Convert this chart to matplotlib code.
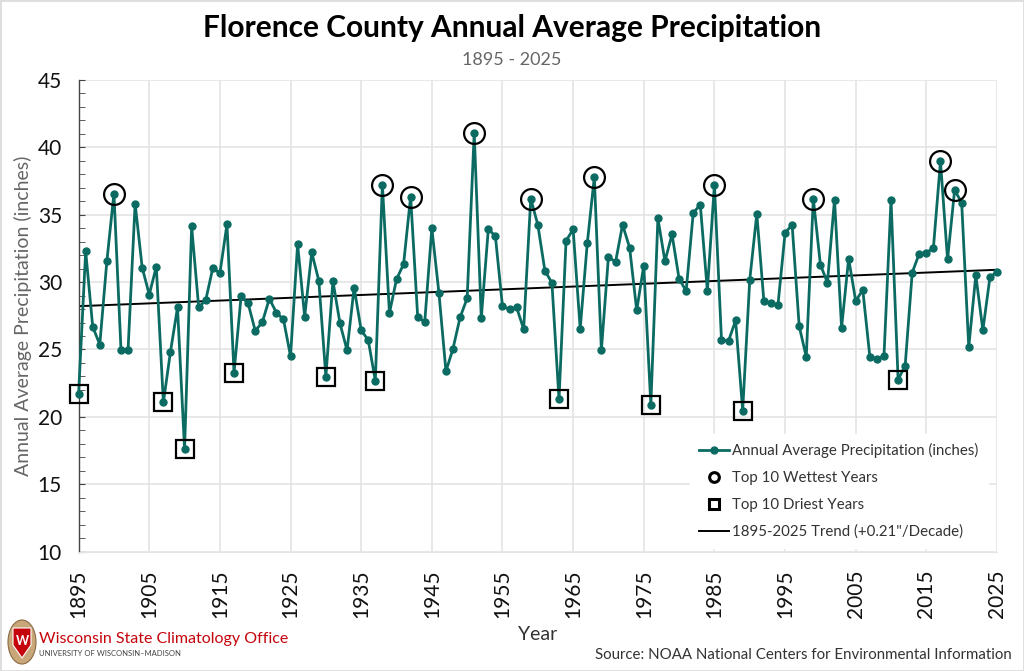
import numpy as np
import matplotlib
matplotlib.use("Agg")
import matplotlib.pyplot as plt
from matplotlib.patches import Ellipse, Polygon, Rectangle

plt.rcParams['font.family'] = ['Lato', 'DejaVu Sans']

years = list(range(1895, 2026))
precip = [
    21.71, 32.30, 26.68, 25.37, 31.55, 36.57, 24.97, 24.97, 35.83, 31.08,  # 1895-1904
    29.07, 31.15, 21.07, 24.82, 28.12, 17.59, 34.14, 28.12, 28.67, 31.06,  # 1905-1914
    30.66, 34.29, 23.28, 28.95, 28.42, 26.39, 27.01, 28.77, 27.73, 27.23,  # 1915-1924
    24.50, 32.82, 27.43, 32.20, 30.11, 22.98, 30.09, 26.93, 24.94, 29.59,  # 1925-1934
    26.43, 25.69, 22.68, 37.24, 27.70, 30.21, 31.33, 36.35, 27.40, 27.06,  # 1935-1944
    33.99, 29.22, 23.38, 25.07, 27.38, 28.80, 41.09, 27.33, 33.96, 33.39,  # 1945-1954
    28.20, 27.98, 28.12, 26.51, 36.20, 34.26, 30.86, 29.94, 21.29, 33.07,  # 1955-1964
    33.91, 26.53, 32.87, 37.79, 24.94, 31.90, 31.48, 34.26, 32.55, 27.90,  # 1965-1974
    31.23, 20.89, 34.73, 31.55, 33.54, 30.24, 29.34, 35.13, 35.75, 29.37,  # 1975-1984
    37.22, 25.71, 25.64, 27.16, 20.47, 30.16, 35.06, 28.60, 28.42, 28.32,  # 1985-1994
    33.64, 34.26, 26.73, 24.45, 36.19, 31.30, 29.96, 36.12, 26.61, 31.75,  # 1995-2004
    28.60, 29.42, 24.47, 24.30, 24.50, 36.11, 22.76, 23.80, 30.71, 32.12,  # 2005-2014
    32.17, 32.55, 38.96, 31.68, 36.82, 35.90, 25.17, 30.51, 26.43, 30.36,  # 2015-2024
    30.76,                                                                  # 2025
]

x = np.array(years)
y = np.array(precip)
order = np.argsort(y)
dry = order[:10]
wet = order[-10:]
slope, icpt = np.polyfit(x, y, 1)

teal = '#0b6b62'
fig = plt.figure(figsize=(10.24, 6.71), dpi=100)
ax = fig.add_axes([78.6 / 1024, 1 - 551.6 / 671, (997 - 78.6) / 1024, (551.6 - 80) / 671])

ax.plot(x, y, color=teal, lw=2.0, marker='o', ms=5, zorder=3, clip_on=False,
        label='Annual Average Precipitation (inches)')
ax.plot(x[wet], y[wet], ls='none', marker='o', ms=15, mfc='none', mec='black', mew=1.6,
        zorder=4, clip_on=False, label='Top 10 Wettest Years')
ax.plot(x[dry], y[dry], ls='none', marker='s', ms=13, mfc='none', mec='black', mew=1.6,
        zorder=4, clip_on=False, label='Top 10 Driest Years')
ax.plot(x, slope * x + icpt, color='black', lw=1.4, zorder=2,
        label='1895-2025 Trend (+%.2f"/Decade)' % (slope * 10))

ax.set_xlim(1895, 2025)
ax.set_ylim(10, 45)
ax.set_xticks(range(1895, 2026, 10))
ax.set_yticks(range(10, 46, 5))
ax.set_yticks(range(10, 46), minor=True)
ax.grid(True, color='#e4e4e4', lw=1.2, zorder=0)
ax.set_axisbelow(True)
for s in ['top', 'right']:
    ax.spines[s].set_visible(False)
ax.spines['bottom'].set_color('#e4e4e4')
ax.spines['left'].set_color('#444444')
ax.spines['left'].set_linewidth(1.0)
ax.tick_params(axis='x', length=0, labelsize=15, rotation=90, pad=13, labelcolor='#111111')
ax.tick_params(axis='y', which='major', direction='in', length=4, labelsize=15, pad=12,
               color='#444444', labelcolor='#111111')
ax.tick_params(axis='y', which='minor', direction='in', length=4, color='#444444')

ax.set_ylabel('Annual Average Precipitation (inches)', fontsize=14, color='#666666', labelpad=4)
ax.set_xlabel('Year', fontsize=14, color='#333333', labelpad=6)

leg = ax.legend(loc='lower right', bbox_to_anchor=(0.998, -0.008), fontsize=10.8, frameon=True,
                facecolor='white', edgecolor='white', framealpha=1, handlelength=2.0,
                handletextpad=0.2, labelspacing=0.85, borderpad=0.6)
for t in leg.get_texts():
    t.set_color('#333333')
hs = leg.legend_handles
hs[1].set_markersize(7)
hs[2].set_markersize(7)
hs[1].set_markeredgewidth(2.2)
hs[2].set_markeredgewidth(2.2)

fig.text(0.5, 1 - 28 / 671, 'Florence County Annual Average Precipitation', ha='center', va='center',
         fontsize=21.5, fontweight='bold', color='black')
fig.text(0.5, 1 - 60 / 671, '1895 - 2025', ha='center', va='center', fontsize=13, color='#666666')
fig.text(1012 / 1024, 1 - 655 / 671, 'Source: NOAA National Centers for Environmental Information',
         ha='right', va='center', fontsize=10.8, color='#333333')

# logo
fig.patches.append(Ellipse((22 / 1024, 1 - 642 / 671), 28 / 1024, 44 / 671,
                           transform=fig.transFigure, facecolor='#c8a77a', edgecolor='#8a6a44', lw=0.8))
fig.patches.append(Polygon([(13 / 1024, 1 - 628 / 671), (31 / 1024, 1 - 628 / 671),
                            (31 / 1024, 1 - 645 / 671), (22 / 1024, 1 - 658 / 671),
                            (13 / 1024, 1 - 645 / 671)], closed=True,
                           transform=fig.transFigure, facecolor='#c5050c', edgecolor='white', lw=0.8))
fig.text(22 / 1024, 1 - 641 / 671, 'W', ha='center', va='center', fontsize=9, fontweight='bold',
         color='white')
fig.text(39 / 1024, 1 - 639 / 671, 'Wisconsin State Climatology Office', ha='left', va='center',
         fontsize=11.5, color='#c5050c')
fig.text(39 / 1024, 1 - 653 / 671, 'UNIVERSITY OF WISCONSIN\u2013MADISON', ha='left', va='center',
         fontsize=5.5, color='#444444')

fig.patches.append(Rectangle((0, 0), 1, 1, transform=fig.transFigure, fill=False,
                             edgecolor='#dddddd', lw=2))

fig.savefig('out.png', dpi=100, facecolor='white')
